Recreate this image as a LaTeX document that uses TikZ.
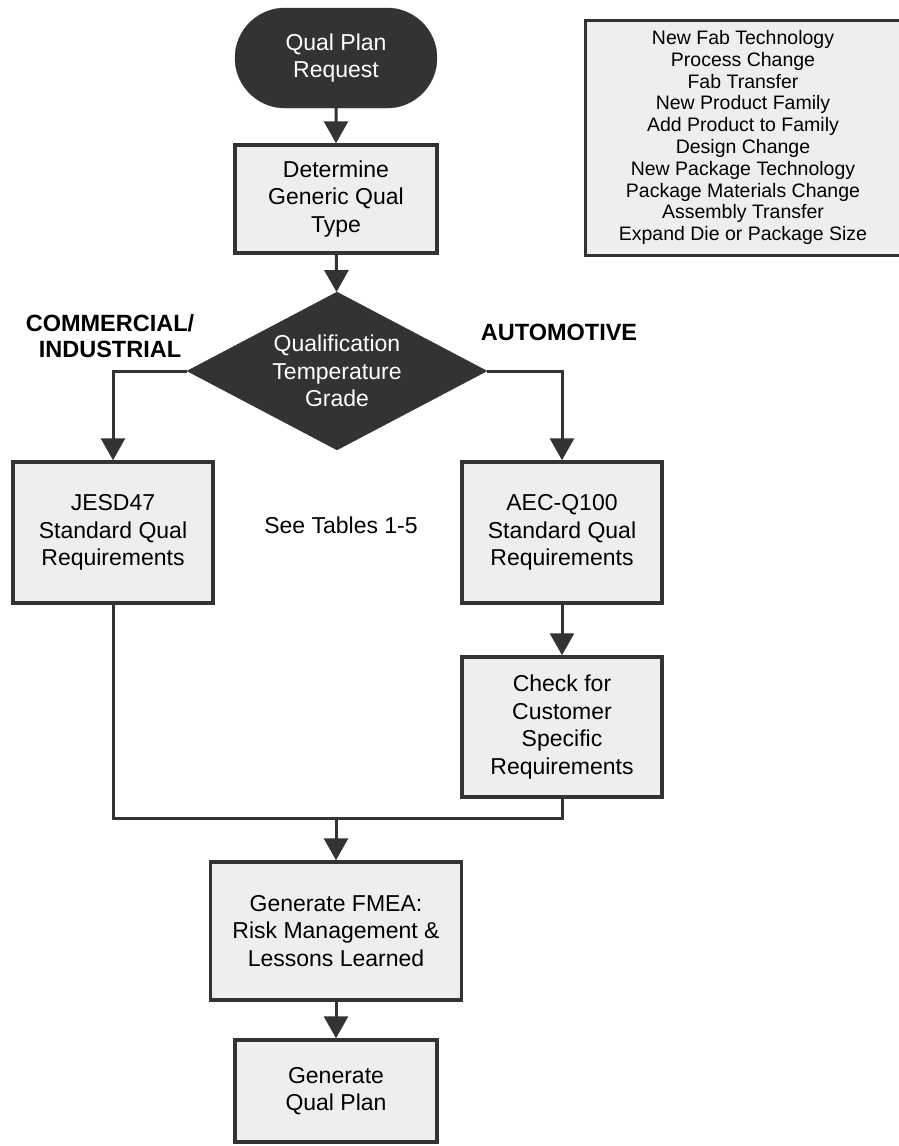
\documentclass[tikz,border=0pt]{standalone}
\usepackage{fontspec}
\setmainfont{Liberation Sans}
\usetikzlibrary{shapes.geometric,shapes.misc,arrows.meta}

\definecolor{darkfill}{HTML}{333333}
\definecolor{boxfill}{HTML}{EEEEEE}

\tikzset{
  procbox/.style={rectangle, draw=darkfill, line width=3.5pt, fill=boxfill,
    align=center, inner sep=0pt, font=\fontsize{23}{27.5}\selectfont},
  terminal/.style={rounded rectangle, draw=darkfill, fill=darkfill, text=white,
    align=center, inner sep=0pt, font=\fontsize{23}{27.5}\selectfont},
  decision/.style={diamond, aspect=1.9, draw=darkfill, fill=darkfill, text=white,
    align=center, inner sep=0pt, font=\fontsize{23}{27.5}\selectfont},
  flow/.style={draw=darkfill, line width=3pt, -{Triangle[width=24pt,length=22pt]}},
  link/.style={draw=darkfill, line width=3pt},
  branch/.style={align=center, font=\fontsize{23.5}{26}\selectfont\bfseries},
}

\begin{document}
\begin{tikzpicture}[x=1pt,y=-1pt]
    \useasboundingbox (0,0) rectangle (898,1146);

    \def\xm{336}
    \def\xl{113}
    \def\xr{562}

    \def\yreq{58}
    \def\ydet{199}
    \def\ygrade{371}
    \def\ystd{532.5}
    \def\ychk{727}
    \def\ymrg{818}
    \def\yfmea{931}
    \def\ygen{1091}

    % main column
    \node[terminal, minimum width=202pt, minimum height=100pt] (req) at (\xm, \yreq) {Qual Plan\\Request};
    \node[procbox, minimum width=202pt, minimum height=108pt] (det) at (\xm, \ydet) {Determine\\Generic Qual\\Type};
    \node[decision, minimum width=300pt, minimum height=158pt] (grade) at (337, \ygrade) {Qualification\\Temperature\\Grade};

    % the two branches
    \node[procbox, minimum width=200pt, minimum height=141pt] (jesd) at (\xl, \ystd) {JESD47\\Standard Qual\\Requirements};
    \node[procbox, minimum width=200pt, minimum height=141pt] (aec) at (\xr, \ystd) {AEC-Q100\\Standard Qual\\Requirements};
    \node[procbox, minimum width=200pt, minimum height=140pt] (chk) at (\xr, \ychk) {Check for\\Customer\\Specific\\Requirements};

    \coordinate (mrg) at (\xm, \ymrg);

    \node[procbox, minimum width=251pt, minimum height=138pt] (fmea) at (\xm, \yfmea) {Generate FMEA:\\Risk Management \&\\Lessons Learned};
    \node[procbox, minimum width=202pt, minimum height=102pt] (gen) at (\xm, \ygen) {Generate\\Qual Plan};

    % list of change types
    \node[procbox, line width=3pt, minimum width=316pt, minimum height=235pt,
          font=\fontsize{19.5}{21.8}\selectfont] (types) at (743, 137.5)
      {New Fab Technology\\Process Change\\Fab Transfer\\New Product Family\\Add Product to Family\\Design Change\\New Package Technology\\Package Materials Change\\Assembly Transfer\\Expand Die or Package Size};

    % labels
    \node[branch] (comm) at (110, 336) {COMMERCIAL/\\INDUSTRIAL};
    \node[branch] (auto) at (559, 332) {AUTOMOTIVE};
    \node[font=\fontsize{23}{27.5}\selectfont] (see) at (341, 525) {See Tables 1-5};

    % connectors
    \draw[flow] (req) -- (det);
    \draw[flow] (det) -- (grade);
    \draw[flow] (grade.west) -| (jesd.north);
    \draw[flow] (grade.east) -| (aec.north);
    \draw[flow] (aec) -- (chk);
    \draw[link] (jesd.south) |- (mrg);
    \draw[link] (chk.south) |- (mrg);
    \draw[flow] (mrg) -- (fmea);
    \draw[flow] (fmea) -- (gen);

\end{tikzpicture}
\end{document}
